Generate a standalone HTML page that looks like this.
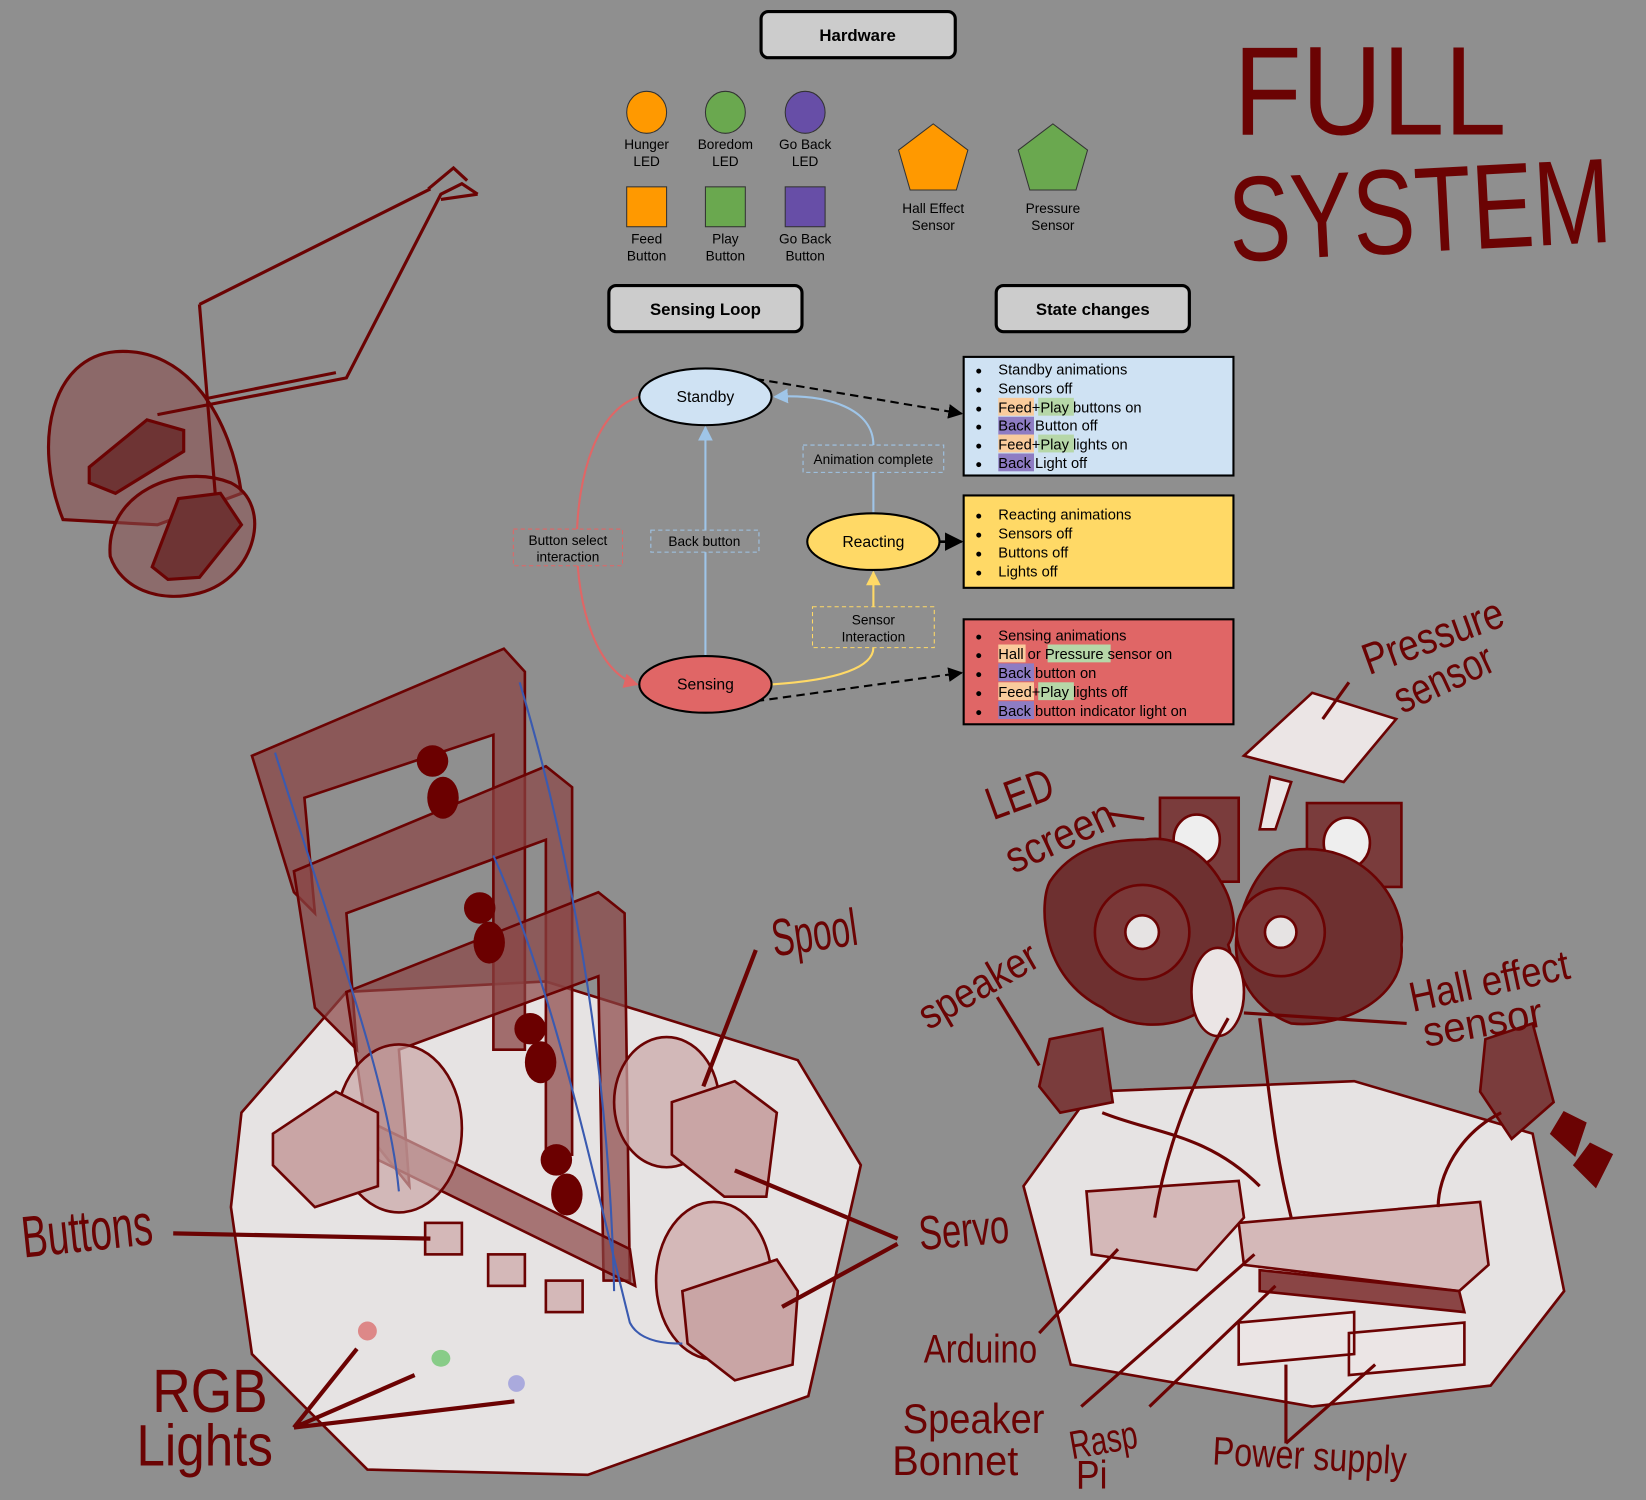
<!DOCTYPE html>
<html><head><meta charset="utf-8"><style>
html,body{margin:0;padding:0;background:#8f8f8f}
svg{display:block}
.t{font-family:"Liberation Sans",sans-serif;fill:#000}
.h{font-family:"Liberation Sans Narrow","Liberation Sans",sans-serif;fill:#6b0303}
</style></head><body>
<svg width="1646" height="1500" viewBox="0 0 1568 1429" preserveAspectRatio="none" xmlns="http://www.w3.org/2000/svg">
<defs>
<marker id="ab" viewBox="0 0 10 10" refX="9" refY="5" markerWidth="7" markerHeight="7" orient="auto"><path d="M0,0L10,5L0,10z" fill="#000"/></marker>
<marker id="abl" viewBox="0 0 10 10" refX="9" refY="5" markerWidth="7" markerHeight="7" orient="auto"><path d="M0,0L10,5L0,10z" fill="#9fc5e8"/></marker>
<marker id="ar" viewBox="0 0 10 10" refX="9" refY="5" markerWidth="7" markerHeight="7" orient="auto"><path d="M0,0L10,5L0,10z" fill="#e06666"/></marker>
<marker id="ay" viewBox="0 0 10 10" refX="9" refY="5" markerWidth="7" markerHeight="7" orient="auto"><path d="M0,0L10,5L0,10z" fill="#ffd966"/></marker>
</defs>
<rect width="1568" height="1429" fill="#8f8f8f"/>

<!-- top-left sketch -->
<g stroke="#6b0303" stroke-width="3" fill="none">
<path d="M60,495 C30,420 50,340 110,335 C180,330 220,400 230,470 L150,500 Z" fill="#8a5050" fill-opacity="0.6"/>
<path d="M105,530 C100,470 170,440 220,460 C260,480 245,550 190,565 C150,575 115,560 105,530Z" fill="#8a5050" fill-opacity="0.55"/>
<path d="M85,445 L140,400 L175,410 L175,430 L110,470 L85,460Z" fill="#6e3434"/>
<path d="M145,540 L170,475 L210,470 L230,500 L190,550 L160,552Z" fill="#6e3434"/>
<path d="M150,395 L330,360 L420,185 L440,175 L455,185 M190,290 L410,180 M190,290 L205,470 M195,380 L320,355"/>
<path d="M408,180 L432,160 L445,172 M420,190 L455,185"/>
</g>

<!-- Title -->
<text class="h" x="1175" y="128" font-size="120" textLength="260" lengthAdjust="spacingAndGlyphs">FULL</text>
<text class="h" x="1170" y="240" font-size="115" textLength="365" lengthAdjust="spacingAndGlyphs" transform="rotate(-3 1350 200)">SYSTEM</text>

<!-- Headers -->
<g stroke="#000" stroke-width="3" fill="#cccccc">
<rect x="725" y="11" width="185" height="44" rx="7"/>
<rect x="580" y="272" width="184" height="44" rx="7"/>
<rect x="949" y="272" width="184" height="44" rx="7"/>
</g>
<g class="t" font-weight="bold" font-size="16" text-anchor="middle">
<text x="817" y="39">Hardware</text><text x="672" y="300">Sensing Loop</text><text x="1041" y="300">State changes</text>
</g>

<!-- hardware legend -->
<g stroke="#333" stroke-width="1">
<ellipse cx="616" cy="107" rx="19" ry="20" fill="#ff9900"/>
<ellipse cx="691" cy="107" rx="19" ry="20" fill="#6aa84f"/>
<ellipse cx="767" cy="107" rx="19" ry="20" fill="#674ea7"/>
<rect x="597" y="178" width="38" height="38" fill="#ff9900"/>
<rect x="672" y="178" width="38" height="38" fill="#6aa84f"/>
<rect x="748" y="178" width="38" height="38" fill="#674ea7"/>
<polygon points="889,118 922,143 911,181 867,181 856,143" fill="#ff9900"/>
<polygon points="1003,118 1036,143 1025,181 981,181 970,143" fill="#6aa84f"/>
</g>
<g class="t" font-size="13" text-anchor="middle" fill="#111">
<text x="616" y="142">Hunger</text><text x="616" y="158">LED</text>
<text x="691" y="142">Boredom</text><text x="691" y="158">LED</text>
<text x="767" y="142">Go Back</text><text x="767" y="158">LED</text>
<text x="616" y="232">Feed</text><text x="616" y="248">Button</text>
<text x="691" y="232">Play</text><text x="691" y="248">Button</text>
<text x="767" y="232">Go Back</text><text x="767" y="248">Button</text>
<text x="889" y="203">Hall Effect</text><text x="889" y="219">Sensor</text>
<text x="1003" y="203">Pressure</text><text x="1003" y="219">Sensor</text>
</g>

<!-- connectors -->
<g fill="none" stroke-width="2">
<path d="M609,378 C530,400 530,630 607,652" stroke="#e06666" marker-end="url(#ar)"/>
<path d="M672,625 L672,407" stroke="#9fc5e8" marker-end="url(#abl)"/>
<path d="M832,489 L832,450 M832,424 C832,390 790,375 738,378" stroke="#9fc5e8" marker-end="url(#abl)"/>
<path d="M735,652 C800,648 832,635 832,617" stroke="#ffd966"/>
<path d="M832,578 L832,545" stroke="#ffd966" marker-end="url(#ay)"/>
<path d="M720,361 L916,394" stroke="#000" stroke-dasharray="8,5" marker-end="url(#ab)"/>
<path d="M720,668 L916,641" stroke="#000" stroke-dasharray="8,5" marker-end="url(#ab)"/>
<path d="M895,516 L916,516" stroke="#000" stroke-width="2.5" marker-end="url(#ab)"/>
</g>
<g fill="#8f8f8f" stroke-dasharray="4,3" stroke-width="1">
<rect x="765" y="424" width="134" height="26" stroke="#9fc5e8"/>
<rect x="489" y="504" width="104" height="35" stroke="#e06666"/>
<rect x="620" y="505" width="103" height="21" stroke="#9fc5e8"/>
<rect x="774" y="578" width="116" height="39" stroke="#ffd966"/>
</g>
<g class="t" font-size="13" text-anchor="middle" fill="#111">
<text x="832" y="442">Animation complete</text>
<text x="541" y="519">Button select</text><text x="541" y="535">interaction</text>
<text x="671" y="520">Back button</text>
<text x="832" y="595">Sensor</text><text x="832" y="611">Interaction</text>
</g>
<g stroke="#000" stroke-width="2">
<ellipse cx="672" cy="378" rx="63" ry="27" fill="#cfe2f3"/>
<ellipse cx="672" cy="652" rx="63" ry="27" fill="#e06666"/>
<ellipse cx="832" cy="516" rx="63" ry="27" fill="#ffd966"/>
</g>
<g class="t" font-size="15" text-anchor="middle">
<text x="672" y="383">Standby</text><text x="672" y="657">Sensing</text><text x="832" y="521">Reacting</text>
</g>

<g stroke="#000" stroke-width="2">
<rect x="918" y="340" width="257" height="113" fill="#cfe2f3"/>
<rect x="918" y="472" width="257" height="88" fill="#ffd966"/>
<rect x="918" y="590" width="257" height="100" fill="#e06666"/>
</g>
<g>
<rect x="951" y="379" width="34" height="17" fill="#f9cb9c"/><rect x="989" y="379" width="34" height="17" fill="#b6d7a8"/>
<rect x="951" y="397" width="34" height="17" fill="#8e7cc3"/>
<rect x="951" y="414" width="34" height="17" fill="#f9cb9c"/><rect x="989" y="414" width="34" height="17" fill="#b6d7a8"/>
<rect x="951" y="432" width="34" height="17" fill="#8e7cc3"/>
<rect x="951" y="614" width="26" height="17" fill="#f9cb9c"/><rect x="998" y="614" width="60" height="17" fill="#b6d7a8"/>
<rect x="951" y="632" width="34" height="17" fill="#8e7cc3"/>
<rect x="951" y="650" width="34" height="17" fill="#f9cb9c"/><rect x="989" y="650" width="34" height="17" fill="#b6d7a8"/>
<rect x="951" y="668" width="34" height="17" fill="#8e7cc3"/>
</g>
<g class="t" font-size="14">
<g font-size="11"><text x="929" y="357">●</text><text x="929" y="375">●</text><text x="929" y="393">●</text><text x="929" y="410">●</text><text x="929" y="428">●</text><text x="929" y="446">●</text>
<text x="929" y="495">●</text><text x="929" y="513">●</text><text x="929" y="531">●</text><text x="929" y="549">●</text>
<text x="929" y="610">●</text><text x="929" y="628">●</text><text x="929" y="646">●</text><text x="929" y="664">●</text><text x="929" y="682">●</text></g>
<text x="951" y="357">Standby animations</text>
<text x="951" y="375">Sensors off</text>
<text x="951" y="393">Feed+Play buttons on</text>
<text x="951" y="410">Back Button off</text>
<text x="951" y="428">Feed+Play lights on</text>
<text x="951" y="446">Back Light off</text>
<text x="951" y="495">Reacting animations</text>
<text x="951" y="513">Sensors off</text>
<text x="951" y="531">Buttons off</text>
<text x="951" y="549">Lights off</text>
<text x="951" y="610">Sensing animations</text>
<text x="951" y="628">Hall or Pressure sensor on</text>
<text x="951" y="646">Back button on</text>
<text x="951" y="664">Feed+Play lights off</text>
<text x="951" y="682">Back button indicator light on</text>
</g>

<!-- bottom-left sketch -->
<g stroke="#6b0303" stroke-width="2.5">
<path d="M230,1060 L330,945 L520,935 L760,1010 L820,1110 L770,1330 L560,1405 L350,1400 L240,1290 L220,1150 Z" fill="#e6e3e3"/>
<path d="M240,720 L480,618 L500,640 L500,1000 L470,1000 L470,700 L290,760 L300,870 L280,850 Z" fill="#8a4545" fill-opacity="0.75"/>
<path d="M280,830 L520,730 L545,750 L545,1100 L520,1100 L520,800 L330,870 L340,1000 L300,960 Z" fill="#8a4545" fill-opacity="0.7"/>
<path d="M330,945 L570,850 L595,870 L600,1220 L575,1220 L570,930 L380,1000 L390,1130 L350,1080 Z" fill="#8a4545" fill-opacity="0.7"/>
<path d="M355,1070 L600,1190 L605,1225 L350,1100 Z" fill="#8a4545" fill-opacity="0.7"/>
<ellipse cx="380" cy="1075" rx="60" ry="80" fill="#c9a5a5" fill-opacity="0.7"/>
<ellipse cx="635" cy="1050" rx="50" ry="62" fill="#c9a5a5" fill-opacity="0.7"/>
<path d="M260,1080 L320,1040 L360,1060 L360,1130 L300,1150 L260,1110Z" fill="#c9a5a5"/>
<path d="M640,1050 L700,1030 L740,1060 L730,1140 L690,1140 L640,1100Z" fill="#c9a5a5"/>
<ellipse cx="680" cy="1220" rx="55" ry="75" fill="#d4b8b8"/>
<path d="M650,1230 L740,1200 L760,1230 L755,1300 L700,1315 L655,1280Z" fill="#c9a5a5"/>
<rect x="405" y="1165" width="35" height="30" fill="#d4b8b8"/><rect x="465" y="1195" width="35" height="30" fill="#d4b8b8"/><rect x="520" y="1220" width="35" height="30" fill="#d4b8b8"/>
</g>
<g fill="#6b0000">
<ellipse cx="412" cy="725" rx="15" ry="15"/><ellipse cx="422" cy="760" rx="15" ry="20"/>
<ellipse cx="457" cy="865" rx="15" ry="15"/><ellipse cx="466" cy="898" rx="15" ry="20"/>
<ellipse cx="505" cy="980" rx="15" ry="15"/><ellipse cx="515" cy="1012" rx="15" ry="20"/>
<ellipse cx="530" cy="1105" rx="15" ry="15"/><ellipse cx="540" cy="1138" rx="15" ry="20"/>
</g>
<g fill="none" stroke="#3a5ab0" stroke-width="2">
<path d="M262,717 C320,900 370,1030 380,1135"/><path d="M495,650 C540,800 580,1000 585,1230"/>
<path d="M470,815 C530,950 560,1100 600,1260 C610,1280 640,1280 650,1280"/>
</g>
<ellipse cx="350" cy="1268" rx="9" ry="9" fill="#d88"/><ellipse cx="420" cy="1294" rx="9" ry="8" fill="#8c8"/><ellipse cx="492" cy="1318" rx="8" ry="8" fill="#aad"/>
<g stroke="#6b0303" stroke-width="4" fill="none">
<path d="M165,1175 L410,1180"/><path d="M280,1360 L340,1285 M280,1360 L395,1310 M280,1360 L490,1335"/>
<path d="M720,905 L670,1035"/><path d="M855,1180 L700,1115 M855,1185 L745,1245"/>
</g>

<!-- bottom-right sketch -->
<g stroke="#6b0303" stroke-width="2.5">
<path d="M975,1130 L1040,1040 L1290,1030 L1460,1080 L1490,1230 L1420,1320 L1250,1340 L1020,1300 Z" fill="#e6e3e3"/>
<path d="M1180,1165 L1410,1145 L1418,1205 L1390,1230 L1185,1205Z" fill="#d4b8b8"/>
<path d="M1200,1210 L1390,1230 L1395,1250 L1200,1230Z" fill="#8a4545"/>
<path d="M1035,1135 L1180,1125 L1185,1160 L1140,1210 L1040,1195Z" fill="#d4b8b8"/>
<path d="M1180,1260 L1290,1250 L1290,1290 L1180,1300Z M1285,1270 L1395,1260 L1395,1300 L1285,1310Z" fill="#ebe5e5"/>
<path d="M1000,990 L1050,980 L1060,1050 L1010,1060 L990,1035Z" fill="#7a3c3c"/>
<path d="M1415,990 L1460,975 L1480,1050 L1440,1085 L1410,1040Z" fill="#7a3c3c"/>
<path d="M1185,720 L1250,660 L1330,685 L1280,745 Z" fill="#ebe5e5"/>
<path d="M1210,740 L1230,745 L1215,790 L1200,790Z" fill="#ebe5e5"/>
<path d="M1105,760 L1180,760 L1180,840 L1105,840Z M1245,765 L1335,765 L1335,845 L1245,845Z" fill="#7a3c3c"/>
<ellipse cx="1140" cy="800" rx="22" ry="24" fill="#eee"/><ellipse cx="1283" cy="803" rx="22" ry="24" fill="#eee"/>
<path d="M1090,800 C1150,790 1190,870 1170,900 C1190,960 1100,1000 1050,960 C990,930 990,860 1000,840 C1020,810 1050,800 1090,800Z" fill="#6e3030"/>
<path d="M1230,810 C1300,800 1340,860 1335,900 C1340,950 1280,980 1230,975 C1190,960 1170,920 1180,880 C1190,840 1210,815 1230,810Z" fill="#6e3030"/>
<circle cx="1088" cy="888" r="45" fill="#7a3838"/><circle cx="1088" cy="888" r="16" fill="#e6e3e3"/>
<circle cx="1220" cy="888" r="42" fill="#7a3838"/><circle cx="1220" cy="888" r="15" fill="#e6e3e3"/>
<ellipse cx="1160" cy="945" rx="25" ry="42" fill="#ebe5e5"/>
<path d="M1478,1080 L1490,1060 L1510,1070 L1500,1100Z M1500,1110 L1515,1090 L1535,1100 L1520,1130Z" fill="#6b0303"/>
</g>
<g stroke="#6b0303" stroke-width="3" fill="none">
<path d="M1090,780 L1055,775"/><path d="M950,950 L990,1015"/><path d="M1340,975 L1185,965"/><path d="M1285,650 L1260,685"/>
<path d="M990,1270 L1065,1190 M1030,1340 L1195,1195 M1095,1340 L1215,1225 M1225,1375 L1225,1300 M1225,1375 L1310,1300"/>
<path d="M1170,970 C1130,1040 1110,1100 1100,1160 M1200,970 C1210,1050 1215,1100 1230,1160 M1050,1060 C1100,1080 1150,1080 1200,1130 M1430,1060 C1390,1080 1370,1120 1370,1150"/>
</g>

<!-- handwritten labels -->
<g class="h" lengthAdjust="spacingAndGlyphs">
<text x="20" y="1192" font-size="56" textLength="125" lengthAdjust="spacingAndGlyphs" transform="rotate(-6 80 1170)">Buttons</text>
<text x="145" y="1345" font-size="58" textLength="110" lengthAdjust="spacingAndGlyphs">RGB</text>
<text x="130" y="1396" font-size="56" textLength="130" lengthAdjust="spacingAndGlyphs">Lights</text>
<text x="735" y="905" font-size="50" textLength="82" lengthAdjust="spacingAndGlyphs" transform="rotate(-8 780 890)">Spool</text>
<text x="875" y="1188" font-size="46" textLength="86" lengthAdjust="spacingAndGlyphs" transform="rotate(-5 910 1170)">Servo</text>
<text x="880" y="1298" font-size="38" textLength="108" lengthAdjust="spacingAndGlyphs">Arduino</text>
<text x="860" y="1365" font-size="40" textLength="135" lengthAdjust="spacingAndGlyphs">Speaker</text>
<text x="850" y="1405" font-size="40" textLength="120" lengthAdjust="spacingAndGlyphs">Bonnet</text>
<text x="1020" y="1385" font-size="38" textLength="65" lengthAdjust="spacingAndGlyphs" transform="rotate(-10 1050 1380)">Rasp</text>
<text x="1025" y="1418" font-size="38" textLength="30" lengthAdjust="spacingAndGlyphs">Pi</text>
<text x="1155" y="1400" font-size="38" textLength="185" lengthAdjust="spacingAndGlyphs" transform="rotate(3 1250 1390)">Power supply</text>
<text x="862" y="962" font-size="40" textLength="125" lengthAdjust="spacingAndGlyphs" transform="rotate(-30 910 930)">speaker</text>
<text x="940" y="772" font-size="44" textLength="65" lengthAdjust="spacingAndGlyphs" transform="rotate(-20 970 760)">LED</text>
<text x="955" y="815" font-size="42" textLength="110" lengthAdjust="spacingAndGlyphs" transform="rotate(-25 1000 800)">screen</text>
<text x="1292" y="625" font-size="42" textLength="140" lengthAdjust="spacingAndGlyphs" transform="rotate(-20 1350 600)">Pressure</text>
<text x="1322" y="662" font-size="42" textLength="100" lengthAdjust="spacingAndGlyphs" transform="rotate(-25 1370 640)">sensor</text>
<text x="1340" y="950" font-size="40" textLength="155" lengthAdjust="spacingAndGlyphs" transform="rotate(-12 1410 930)">Hall effect</text>
<text x="1355" y="988" font-size="40" textLength="115" lengthAdjust="spacingAndGlyphs" transform="rotate(-10 1410 975)">sensor</text>
</g>
</svg>
</body></html>
